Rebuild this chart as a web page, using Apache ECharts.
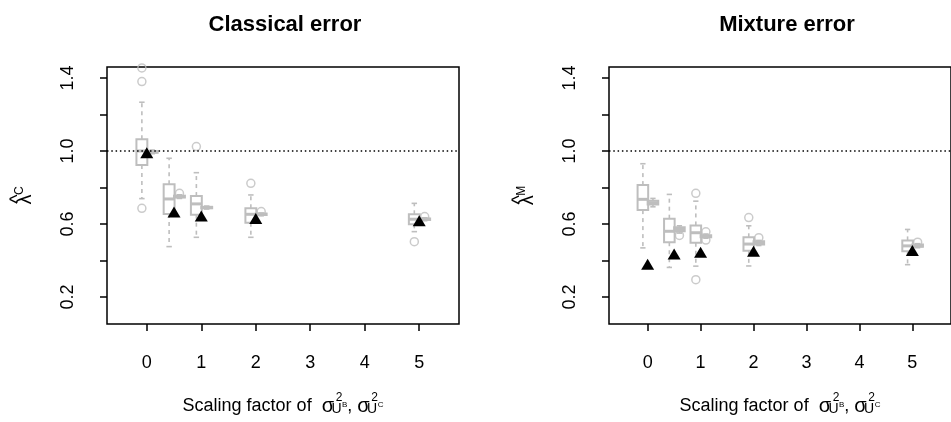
<!DOCTYPE html>
<html><head><meta charset="utf-8">
<script src="https://cdn.jsdelivr.net/npm/echarts@6/dist/echarts.min.js"></script>
<style>html,body{margin:0;padding:0;background:#fff}#c{width:951px;height:422px}</style>
</head><body><div id="c"></div>
<script>
// ---------- data ----------
const groups = [0, 0.5, 1, 2, 5];
const xTickValues = [0, 1, 2, 3, 4, 5];
const yTickValues = [0.2, 0.4, 0.6, 0.8, 1.0, 1.2, 1.4];
const yLabelValues = [0.2, 0.6, 1.0, 1.4];
const refValue = 1.0;

// boxes: [min, q1, median, q3, max]
const classicalMain = [
  [0.739, 0.923, 1.0, 1.064, 1.267],
  [0.476, 0.655, 0.737, 0.817, 0.960],
  [0.527, 0.651, 0.710, 0.753, 0.881],
  [0.527, 0.607, 0.653, 0.686, 0.759],
  [0.558, 0.598, 0.626, 0.653, 0.713]
];
const classicalMainOutliers = [[0, 1.455], [0, 1.38], [0, 0.686], [1, 1.024], [2, 0.823], [5, 0.503]];
const classicalSecond = [
  [0.985, 0.990, 0.995, 1.000, 1.005],
  [0.740, 0.745, 0.750, 0.755, 0.760],
  [0.682, 0.686, 0.690, 0.694, 0.698],
  [0.645, 0.649, 0.653, 0.657, 0.660],
  [0.618, 0.622, 0.626, 0.630, 0.634]
];
const classicalSecondOutliers = [[0.5, 0.768], [2, 0.668], [5, 0.641]];
const classicalPoint = [0.99, 0.665, 0.644, 0.63, 0.617];

const mixtureMain = [
  [0.469, 0.676, 0.735, 0.813, 0.930],
  [0.362, 0.500, 0.560, 0.629, 0.762],
  [0.369, 0.497, 0.552, 0.592, 0.725],
  [0.370, 0.453, 0.490, 0.527, 0.590],
  [0.377, 0.450, 0.480, 0.510, 0.570]
];
const mixtureMainOutliers = [[1, 0.768], [1, 0.295], [2, 0.635]];
const mixtureSecond = [
  [0.694, 0.707, 0.716, 0.727, 0.740],
  [0.550, 0.560, 0.570, 0.582, 0.590],
  [0.522, 0.527, 0.532, 0.538, 0.545],
  [0.482, 0.488, 0.495, 0.505, 0.510],
  [0.470, 0.475, 0.480, 0.487, 0.492]
];
const mixtureSecondOutliers = [[0.5, 0.537], [1, 0.557], [1, 0.512], [2, 0.525], [5, 0.500]];
const mixturePoint = [0.38, 0.436, 0.445, 0.45, 0.455];

// ---------- styling / layout ----------
const GREY = '#bebebe';
const FONT = 'Liberation Sans, Arial, sans-serif';
const MAIN_OFF = -0.09, SECOND_OFF = 0.10, BOX_W = 0.2;

function boxRender(params, api) {
  const x = api.value(0);
  const pMin = api.coord([x, api.value(1)]);
  const pQ1 = api.coord([x, api.value(2)]);
  const pMed = api.coord([x, api.value(3)]);
  const pQ3 = api.coord([x, api.value(4)]);
  const pMax = api.coord([x, api.value(5)]);
  const hw = api.size([BOX_W / 2, 0])[0];
  const cx = pMed[0];
  const dash = { stroke: GREY, lineWidth: 1.6, lineDash: [4, 4] };
  const solid = { stroke: GREY, lineWidth: 1.6 };
  return {
    type: 'group',
    children: [
      { type: 'line', shape: { x1: cx, y1: pQ3[1], x2: cx, y2: pMax[1] }, style: dash },
      { type: 'line', shape: { x1: cx, y1: pQ1[1], x2: cx, y2: pMin[1] }, style: dash },
      { type: 'line', shape: { x1: cx - hw / 2, y1: pMax[1], x2: cx + hw / 2, y2: pMax[1] }, style: solid },
      { type: 'line', shape: { x1: cx - hw / 2, y1: pMin[1], x2: cx + hw / 2, y2: pMin[1] }, style: solid },
      { type: 'rect', shape: { x: cx - hw, y: pQ3[1], width: 2 * hw, height: pQ1[1] - pQ3[1] },
        style: { stroke: GREY, lineWidth: 2, fill: 'rgba(0,0,0,0)' } },
      { type: 'line', shape: { x1: cx - hw, y1: pMed[1], x2: cx + hw, y2: pMed[1] }, style: { stroke: GREY, lineWidth: 3 } }
    ]
  };
}

function boxSeries(idx, boxes, off) {
  return {
    type: 'custom', xAxisIndex: idx, yAxisIndex: idx,
    renderItem: boxRender,
    encode: { x: 0, y: [1, 2, 3, 4, 5] },
    data: groups.map((g, i) => [g + off].concat(boxes[i])),
    z: 2
  };
}
function outlierSeries(idx, outs, off) {
  return {
    type: 'scatter', xAxisIndex: idx, yAxisIndex: idx, symbol: 'circle', symbolSize: 8,
    itemStyle: { color: 'rgba(0,0,0,0)', borderColor: GREY, borderWidth: 1.5 },
    data: outs.map(o => [o[0] + off, o[1]]), z: 3
  };
}
function pointSeries(idx, vals) {
  return {
    type: 'scatter', xAxisIndex: idx, yAxisIndex: idx, symbol: 'triangle', symbolSize: [13, 11],
    itemStyle: { color: '#000', opacity: 1 },
    data: groups.map((g, i) => [g, vals[i]]), z: 5,
    markLine: {
      silent: true, symbol: 'none', label: { show: false },
      lineStyle: { color: '#000', width: 1.5, type: [1.5, 2.8] },
      data: [{ yAxis: refValue }]
    }
  };
}

const axisTitleRich = {
  t: { fontSize: 18, fontFamily: FONT, color: '#000' },
  s: { fontSize: 20, fontFamily: FONT, color: '#000' },
  u: { fontSize: 14, fontFamily: FONT, color: '#000', width: 5, align: 'left', padding: [7, 0, 0, 0] },
  two: { fontSize: 12, fontFamily: FONT, color: '#000', width: 0, padding: [0, 0, 16, 0] },
  sup: { fontSize: 8, fontFamily: FONT, color: '#000', padding: [0, 0, 2, 3] }
};
const xName = '{t|Scaling factor of  }{s|σ}{u|U}{two|2}{sup|B}{t|, }{s|σ}{u|U}{two|2}{sup|C}';

function xAxisCfg(idx) {
  return {
    gridIndex: idx, type: 'value', min: -0.73, max: 5.73,
    axisLine: { show: false, onZero: false }, splitLine: { show: false },
    axisTick: { show: true, length: 7, lineStyle: { color: '#000', width: 1.5 }, customValues: xTickValues },
    axisLabel: { fontSize: 18, fontFamily: FONT, color: '#000', margin: 30, customValues: xTickValues,
      formatter: v => String(Math.round(v)) },
    name: xName, nameLocation: 'middle', nameGap: 68,
    nameTextStyle: { rich: axisTitleRich }
  };
}
function yAxisCfg(idx, sup) {
  return {
    gridIndex: idx, type: 'value', min: 0.052, max: 1.46,
    axisLine: { show: false, onZero: false }, splitLine: { show: false },
    axisTick: { show: true, length: 7, lineStyle: { color: '#000', width: 1.5 }, customValues: yTickValues },
    axisLabel: { fontSize: 18, fontFamily: FONT, color: '#000', rotate: 90, margin: 30, customValues: yLabelValues,
      formatter: v => v.toFixed(1) },
    name: '{l|λ}{h|^}{c|' + sup + '}', nameLocation: 'middle', nameRotate: 90, nameGap: 65,
    nameTextStyle: { rich: {
      l: { fontSize: 20, fontFamily: FONT, color: '#000', width: 5.5, align: 'left' },
      h: { fontSize: 20, fontFamily: FONT, color: '#000', width: 0, padding: [0, 0, 14, 0] },
      c: { fontSize: 12, fontFamily: FONT, color: '#000', padding: [0, 0, 10, 4] }
    } }
  };
}

const chart = echarts.init(document.getElementById('c'), null, { renderer: 'canvas' });
chart.setOption({
  animation: false,
  backgroundColor: '#fff',
  title: [
    { text: 'Classical error', left: 280, top: 9, textAlign: 'center',
      textStyle: { fontSize: 22, fontWeight: 'bold', fontFamily: FONT, color: '#000' } },
    { text: 'Mixture error', left: 782, top: 9, textAlign: 'center',
      textStyle: { fontSize: 22, fontWeight: 'bold', fontFamily: FONT, color: '#000' } }
  ],
  grid: [
    { left: 107, top: 67, width: 352, height: 257, show: true, borderColor: '#000', borderWidth: 1.5, backgroundColor: 'rgba(0,0,0,0)' },
    { left: 609, top: 67, width: 352, height: 257, show: true, borderColor: '#000', borderWidth: 1.5, backgroundColor: 'rgba(0,0,0,0)' }
  ],
  xAxis: [xAxisCfg(0), xAxisCfg(1)],
  yAxis: [yAxisCfg(0, 'C'), yAxisCfg(1, 'M')],
  series: [
    boxSeries(0, classicalMain, MAIN_OFF),
    outlierSeries(0, classicalMainOutliers, MAIN_OFF),
    boxSeries(0, classicalSecond, SECOND_OFF),
    outlierSeries(0, classicalSecondOutliers, SECOND_OFF),
    pointSeries(0, classicalPoint),
    boxSeries(1, mixtureMain, MAIN_OFF),
    outlierSeries(1, mixtureMainOutliers, MAIN_OFF),
    boxSeries(1, mixtureSecond, SECOND_OFF),
    outlierSeries(1, mixtureSecondOutliers, SECOND_OFF),
    pointSeries(1, mixturePoint)
  ]
});
</script></body></html>
